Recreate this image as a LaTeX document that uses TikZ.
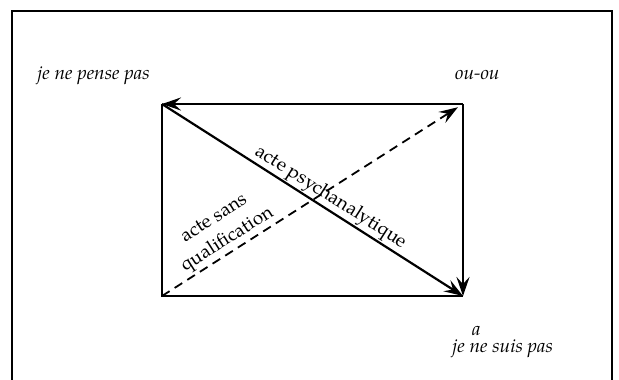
\documentclass[tikz,border=0pt]{standalone}
\usepackage{fontspec}
\setmainfont{TeX Gyre Pagella}
\usetikzlibrary{arrows.meta}
\begin{document}
\begin{tikzpicture}[x=1pt,y=-1pt,
  lbl/.style={font=\fontsize{19}{26}\selectfont\itshape, inner sep=0pt},
  dlbl/.style={font=\fontsize{19}{25}\selectfont, inner sep=0pt, align=center},
  edge/.style={line width=2.6pt},
  tip/.style={-{Stealth[length=19pt,width=13pt,inset=7pt]}}]
\useasboundingbox (0,0) rectangle (619,380);
\clip (0,0) rectangle (619,380);
% frame
\draw[line width=2.2pt] (12,400) -- (12,11) -- (612,11) -- (612,400);
% corners
\coordinate (TL) at (162,104);
\coordinate (TR) at (463,104);
\coordinate (BL) at (162,296);
\coordinate (BR) at (463,296);
% rectangle sides
\draw[edge] (TL) -- (BL) -- (BR);
\draw[edge,tip] (TR) -- (TL);
\draw[edge,tip] (TR) -- (BR);
% diagonals
\draw[line width=2.2pt,tip] (TL) -- (BR);
\draw[line width=1.8pt,dash pattern=on 9pt off 6pt,tip,shorten >=6pt] (BL) -- (TR);
% labels
\node[lbl,anchor=base west] (jnpp) at (37,79) {je ne pense pas};
\node[lbl,anchor=base west] (ouou) at (455,79) {ou-ou};
\node[lbl,anchor=base west] (a) at (472,335) {a};
\node[lbl,anchor=base west] (jnsp) at (452,352) {je ne suis pas};
\path (TL) -- (BR) node[dlbl,pos=0.54,sloped,above=2pt] (ap) {acte psychanalytique};
\path (BL) -- (TR) node[dlbl,pos=0.24,sloped,above=2pt] (asq) {acte sans\\qualification};
\end{tikzpicture}
\end{document}
